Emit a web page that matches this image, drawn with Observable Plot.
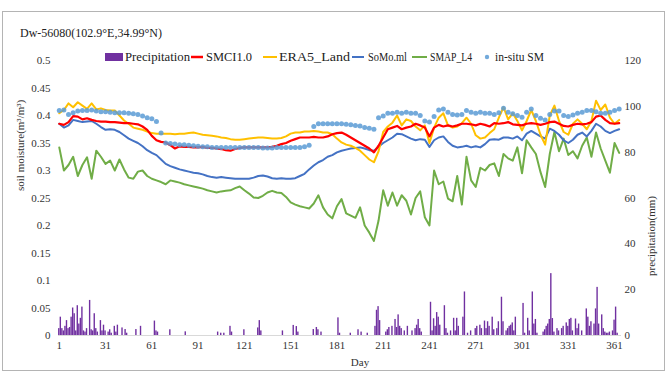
<!DOCTYPE html>
<html><head><meta charset="utf-8">
<script src="https://cdn.jsdelivr.net/npm/d3@7"></script>
<script src="https://cdn.jsdelivr.net/npm/@observablehq/plot@0.6"></script>
<style>
body{margin:0;background:#fff;}
#wrap{position:relative;width:667px;height:376px;font-family:"Liberation Serif","Times New Roman",serif;color:#222;overflow:hidden;}
#wrap svg{position:absolute;left:0;top:0;}
.frame{position:absolute;left:2px;top:11px;width:661px;height:358px;border:1px solid #b4b4b4;pointer-events:none;}
.title{position:absolute;left:20px;top:26px;font-size:12px;line-height:14px;}
</style></head><body>
<div id="wrap"></div>
<script>
// ---- data ----
const days = [1,4,7,10,13,16,19,22,25,28,31,34,37,40,43,46,49,52,55,58,61,64,67,70,73,76,79,82,85,88,91,94,97,100,103,106,109,112,115,118,121,124,127,130,133,136,139,142,145,148,151,154,157,160,163,166,169,172,175,178,181,184,187,190,193,196,199,202,205,208,211,214,217,220,223,226,229,232,235,238,241,244,247,250,253,256,259,262,265,268,271,274,277,280,283,286,289,292,295,298,301,304,307,310,313,316,319,322,325,328,331,334,337,340,343,346,349,352,355,358,361,364];

const era5 = [.404,.41,.422,.415,.424,.418,.412,.422,.411,.413,
.41,.409,.409,.4,.391,.385,.378,.376,.374,.371,
.368,.367,.367,.367,.367,.366,.367,.367,.368,.369,
.367,.365,.364,.363,.362,.36,.359,.357,.356,.356,
.357,.358,.359,.36,.36,.359,.358,.358,.359,.362,
.367,.369,.369,.371,.371,.372,.371,.369,.369,.366,
.358,.351,.347,.345,.341,.336,.328,.32,.315,.335,
.37,.38,.387,.4,.382,.393,.39,.38,.373,.382,
.35,.378,.396,.404,.382,.378,.38,.386,.396,.385,
.364,.358,.36,.368,.375,.396,.415,.393,.404,.39,
.373,.39,.41,.39,.365,.347,.4,.418,.39,.37,
.365,.385,.393,.385,.375,.39,.427,.41,.42,.396,
.385,.392];

const smci = [.385,.383,.388,.399,.398,.393,.395,.392,.39,.389,
.389,.388,.388,.387,.386,.386,.385,.384,.38,.374,
.363,.355,.352,.351,.346,.34,.344,.343,.343,.342,
.342,.343,.341,.341,.34,.339,.337,.336,.339,.341,
.342,.342,.342,.342,.342,.342,.343,.345,.348,.35,
.354,.357,.36,.36,.36,.361,.36,.36,.362,.366,
.368,.369,.365,.36,.355,.35,.345,.34,.333,.345,
.36,.375,.378,.381,.375,.378,.38,.385,.382,.378,
.362,.378,.383,.38,.382,.38,.382,.385,.385,.384,
.382,.385,.383,.38,.386,.385,.386,.388,.384,.383,
.382,.385,.386,.385,.383,.385,.388,.389,.385,.381,
.38,.383,.385,.384,.385,.388,.398,.4,.392,.386,
.385,.386];

const somo = [.385,.378,.382,.392,.39,.388,.389,.39,.385,.379,
.374,.375,.374,.37,.364,.358,.354,.35,.344,.337,
.332,.328,.32,.312,.308,.305,.302,.3,.298,.296,
.295,.293,.29,.288,.287,.288,.287,.286,.285,.285,
.285,.285,.287,.29,.291,.289,.286,.285,.286,.285,
.285,.286,.29,.294,.302,.309,.315,.319,.325,.328,
.333,.336,.338,.34,.341,.342,.34,.337,.336,.343,
.35,.355,.36,.367,.366,.362,.358,.355,.357,.356,
.343,.355,.36,.362,.352,.345,.342,.343,.345,.342,
.344,.342,.348,.356,.357,.356,.36,.36,.358,.362,
.355,.367,.372,.367,.362,.358,.376,.372,.365,.355,
.35,.356,.365,.369,.362,.372,.385,.38,.372,.368,
.372,.375];

const smap = [.342,.3,.31,.325,.29,.31,.324,.285,.336,.325,
.312,.318,.3,.32,.302,.287,.285,.298,.3,.29,
.285,.282,.279,.275,.282,.28,.278,.275,.273,.271,
.269,.267,.264,.262,.26,.262,.263,.264,.268,.271,
.264,.258,.251,.25,.254,.26,.263,.26,.259,.252,
.242,.238,.235,.233,.231,.24,.255,.233,.22,.213,
.235,.248,.222,.218,.214,.233,.2,.187,.172,.209,
.264,.236,.26,.236,.255,.245,.22,.25,.262,.215,
.2,.3,.275,.28,.249,.244,.29,.238,.325,.282,
.27,.305,.3,.31,.313,.29,.33,.322,.318,.342,
.295,.355,.342,.33,.297,.27,.33,.37,.335,.358,
.328,.335,.322,.345,.36,.325,.369,.34,.318,.296,
.35,.332];

const insitu = [.409,.41,.402,.405,.408,.409,.409,.41,.408,.407,
.407,.406,.405,.405,.405,.404,.403,.402,.399,.396,
.394,.389,.368,.35,.349,.348,.347,.347,.346,.345,
.344,.343,.343,.342,.342,.342,.342,.342,.342,.342,
.342,.342,.342,.342,.341,.341,.341,.342,.342,.342,
.342,.342,.342,.343,.346,.38,.385,.385,.385,.385,
.385,.385,.384,.383,.382,.381,.378,.377,.375,.396,
.399,.404,.404,.406,.404,.406,.404,.404,.4,.39,
.388,.398,.41,.412,.406,.402,.401,.402,.409,.406,
.404,.406,.404,.404,.402,.405,.413,.406,.403,.4,
.397,.406,.412,.4,.395,.392,.402,.408,.408,.4,
.398,.401,.404,.406,.409,.409,.407,.404,.404,.406,
.409,.412];

const precipDays = [1,2,3,4,5,6,7,8,9,10,11,12,13,14,15,16,17,18,19,21,22,23,24,25,26,28,29,30,31,33,34,35,37,38,39,42,44,45,51,54,63,64,65,73,83,104,106,108,112,113,121,130,131,132,146,153,155,156,166,168,169,171,182,183,190,195,197,201,206,207,208,209,213,214,215,217,219,220,221,222,223,225,227,230,232,233,234,235,236,242,243,244,245,246,247,248,251,252,253,255,257,258,259,260,263,264,266,268,271,272,274,275,277,278,279,280,282,283,285,286,288,289,291,292,293,294,295,296,297,302,303,305,306,308,309,310,311,315,316,317,318,319,320,321,322,324,325,327,328,330,331,332,333,334,336,337,338,340,343,344,345,346,348,349,350,351,353,354,355,356,357,358,360,361,362,363];
const precipMm = [3,8,3,2,4,6.5,3,3.5,8,12,9.5,2,13,5,7.5,12.4,2,1.5,3,15.3,2.5,2,9.5,3,1.5,6.5,2,4.5,2,1.5,2.5,1,4,1.5,4.5,3.3,2.6,1,2.6,4,6.3,2,1.5,2.5,1.6,1.5,1,1,4,1.5,2.5,3.3,6.5,2,2,4.4,3.9,1.5,2.6,3.5,2.5,1.5,7.7,1,1,2.5,1.5,1,4,11,12.6,6.5,1.5,2.5,3.5,4,7,3.5,9,4,3,2,4,2,3,4.5,7,3,1.5,14.5,2,7.3,4,10,8,4.5,13,3,1,2,7.5,2,7.5,4,8,19,1,2,3,4,4.5,3,6.3,3,6,4,8,2.5,3,6,16.7,6,2,3,4,4.5,5.5,2,8,14,1,7.5,2,19,5,7,1,1.5,2.5,4,5,7,27,7.4,1.5,3,2,3,4,5.5,4,7,7.5,2,7.2,3,5,2,11.6,8,4,6,5,11.6,21,5,9,3,1.5,1,1,1.5,2,6.7,12.4,1];

const xTicks = [1,31,61,91,121,151,181,211,241,271,301,331,361];
const yTicks = [0,0.05,0.1,0.15,0.2,0.25,0.3,0.35,0.4,0.45,0.5];
const y2Ticks = [0,20,40,60,80,100,120];
const titleText = "Dw-56080(102.9°E,34.99°N)";
const yLabel = "soil moisture(m³/m³)";
const y2Label = "precipitation(mm)";
const xLabel = "Day";
const seriesNames = ["Precipitation","SMCI1.0","ERA5_Land","SoMo.ml","SMAP_L4","in-situ SM"];
const seriesColors = ["#7030A0","#FF0000","#FFC000","#4472C4","#70AD47","#5B9BD5"];

// ---- build ----
const ser = arr => days.map((d, i) => ({day: d, v: arr[i]}));
const precip = precipDays.map((d, i) => ({day: d, mm: precipMm[i]}));
const mmToSm = mm => mm / 240;

const chart = Plot.plot({
  width: 667, height: 376,
  marginTop: 60, marginBottom: 41, marginLeft: 58, marginRight: 46,
  style: {background: "transparent", fontFamily: "Liberation Serif, Times New Roman, serif", fontSize: "11px", color: "#333"},
  x: {domain: [0.5, 365.5]},
  y: {domain: [0, 0.5]},
  marks: [
    Plot.ruleY([0], {stroke: "#d9d9d9", strokeWidth: 1}),
    Plot.rect(precip, {x1: d => d.day - 0.45, x2: d => d.day + 0.45, y1: 0, y2: d => mmToSm(d.mm), fill: seriesColors[0]}),
    Plot.line(ser(smap), {x: "day", y: "v", stroke: seriesColors[4], strokeWidth: 2}),
    Plot.line(ser(somo), {x: "day", y: "v", stroke: seriesColors[3], strokeWidth: 2}),
    Plot.line(ser(era5), {x: "day", y: "v", stroke: seriesColors[2], strokeWidth: 2}),
    Plot.line(ser(smci), {x: "day", y: "v", stroke: seriesColors[1], strokeWidth: 2.2}),
    Plot.dot(ser(insitu), {x: "day", y: "v", r: 2.5, fill: seriesColors[5], stroke: "none", fillOpacity: 0.85}),
    Plot.axisX({ticks: xTicks, tickSize: 0, tickPadding: 6, label: null, tickFormat: d => String(d)}),
    Plot.axisY({ticks: yTicks, tickSize: 0, tickPadding: 8, label: null, tickFormat: d => String(+d.toFixed(2))}),
    Plot.text(y2Ticks, {y: d => mmToSm(d), text: d => String(d), frameAnchor: "right", textAnchor: "start", dx: 3}),
    Plot.text([yLabel], {text: d => d, frameAnchor: "left", dx: -38, dy: -7, rotate: -90}),
    Plot.text([y2Label], {text: d => d, frameAnchor: "right", dx: 30, dy: -2, rotate: -90}),
    Plot.text([xLabel], {text: d => d, frameAnchor: "bottom", dx: 20, dy: 30})
  ]
});

const wrap = document.getElementById("wrap");
wrap.appendChild(chart);

// overlay: frame + title
const overlay = document.createElement("div");
overlay.innerHTML = `<div class="frame"></div><div class="title">${titleText}</div>`;
wrap.appendChild(overlay);

// legend (SVG overlay)
const legX = [125, 206, 279, 368, 430, 495];   // text starts
const legW = [65, 46, 71, 39, 42, 49];         // text widths
const swX = [105, 191, 263, 352, 412, 487];    // swatch starts
const swW = [18, 12, 14, 12, 15, 0];
const legY = 57;
const leg = d3.create("svg").attr("width", 667).attr("height", 376)
  .style("position", "absolute").style("left", 0).style("top", 0).style("pointer-events", "none");
seriesNames.forEach((name, i) => {
  if (i === 0) {
    leg.append("rect").attr("x", swX[i]).attr("y", legY - 4).attr("width", swW[i]).attr("height", 8).attr("fill", seriesColors[i]);
  } else if (i === 5) {
    leg.append("circle").attr("cx", swX[i]).attr("cy", legY).attr("r", 2.2).attr("fill", seriesColors[i]).attr("fill-opacity", 0.85);
  } else {
    leg.append("line").attr("x1", swX[i]).attr("x2", swX[i] + swW[i]).attr("y1", legY).attr("y2", legY)
      .attr("stroke", seriesColors[i]).attr("stroke-width", i === 1 ? 2.5 : 2);
  }
  leg.append("text").attr("x", legX[i]).attr("y", legY).attr("dominant-baseline", "central")
    .attr("font-family", "Liberation Serif, Times New Roman, serif").attr("font-size", 12.5).attr("fill", "#222")
    .attr("textLength", legW[i]).attr("lengthAdjust", "spacingAndGlyphs").text(name);
});
wrap.appendChild(leg.node());
</script>
</body></html>
